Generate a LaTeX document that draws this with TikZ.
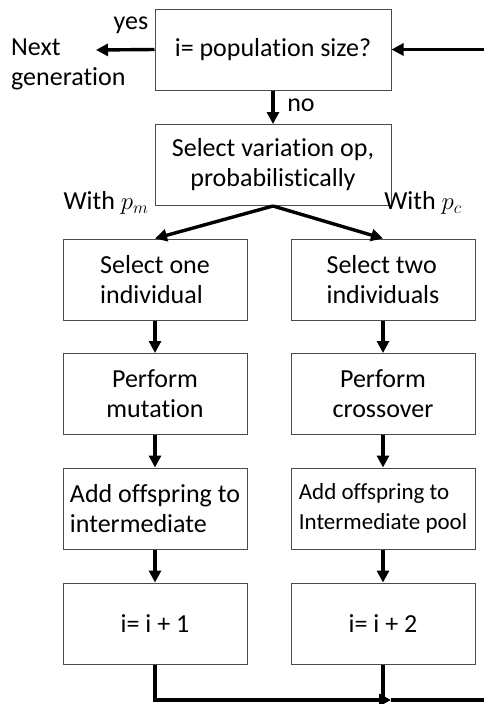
\documentclass[tikz,border=0pt]{standalone}
\usepackage{fontspec}
\setmainfont{Carlito}[Ligatures=NoCommon]
\usetikzlibrary{arrows.meta}
\tikzset{
  stagebox/.style={draw=black!70, line width=1pt, inner sep=2pt,
    font=\fontsize{26}{30}\selectfont},
  wide/.style={stagebox, minimum width=236pt, minimum height=81pt},
  narrow/.style={stagebox, minimum width=184pt, minimum height=81pt},
  flow/.style={line width=3.4pt, -{Triangle[length=12pt,width=12pt]}},
  wire/.style={line width=3.4pt},
  lbl/.style={font=\fontsize{26}{30}\selectfont, inner sep=0pt}
}
\begin{document}
\begin{tikzpicture}[x=1pt, y=-1pt]
  \useasboundingbox (0,0) rectangle (484,704);
  \clip (0,0) rectangle (484,704);
  % top test and operator choice
  \node[wide] (test) at (273,49.5) {i= population size?};
  \node[wide, align=center] (pick) at (273,165) {Select variation op,\\probabilistically};
  % mutation column
  \node[narrow, align=left] (mone) at (155,279.5) {Select one\\individual};
  \node[narrow, align=center] (mdo) at (155,394) {Perform\\mutation};
  \node[narrow, align=left] (madd) at (155,508.5) {Add offspring to\\intermediate};
  \node[narrow] (minc) at (155,623.5) {i= i + 1};
  % crossover column
  \node[narrow, align=left] (ctwo) at (383,279.5) {Select two\\individuals};
  \node[narrow, align=center] (cdo) at (383,394) {Perform\\crossover};
  \node[narrow, align=left, font=\fontsize{23}{30}\selectfont] (cadd) at (383,508.5) {Add offspring to\\Intermediate pool};
  \node[narrow] (cinc) at (383,623.5) {i= i + 2};
  % labels
  \node[lbl] (yes) at (131,25) {yes};
  \node[lbl, align=left, anchor=west] (next) at (11,64) {Next\\generation};
  \node[lbl] (no) at (301,105) {no};
  \node[lbl] (pm) at (106,203) {With $p_m$};
  \node[lbl] (pc) at (423,203) {With $p_c$};
  \coordinate (out) at (96,50);
  \coordinate (mid) at (391,700);
  \coordinate (ret) at (520,700);
  % connectors
  \draw[flow] (test.west) -- (out);
  \draw[flow] (test.south) -- (pick.north);
  \draw[flow] (pick.south) -- (mone.north);
  \draw[flow] (pick.south) -- (ctwo.north);
  \draw[flow] (mone) -- (mdo);
  \draw[flow] (mdo) -- (madd);
  \draw[flow] (madd) -- (minc);
  \draw[flow] (ctwo) -- (cdo);
  \draw[flow] (cdo) -- (cadd);
  \draw[flow] (cadd) -- (cinc);
  \draw[flow] (minc.south) |- (mid);
  \draw[wire] (cinc.south) -- (cinc.south |- ret);
  \draw[flow] (mid) -- (ret) |- (test.east);
\end{tikzpicture}
\end{document}
